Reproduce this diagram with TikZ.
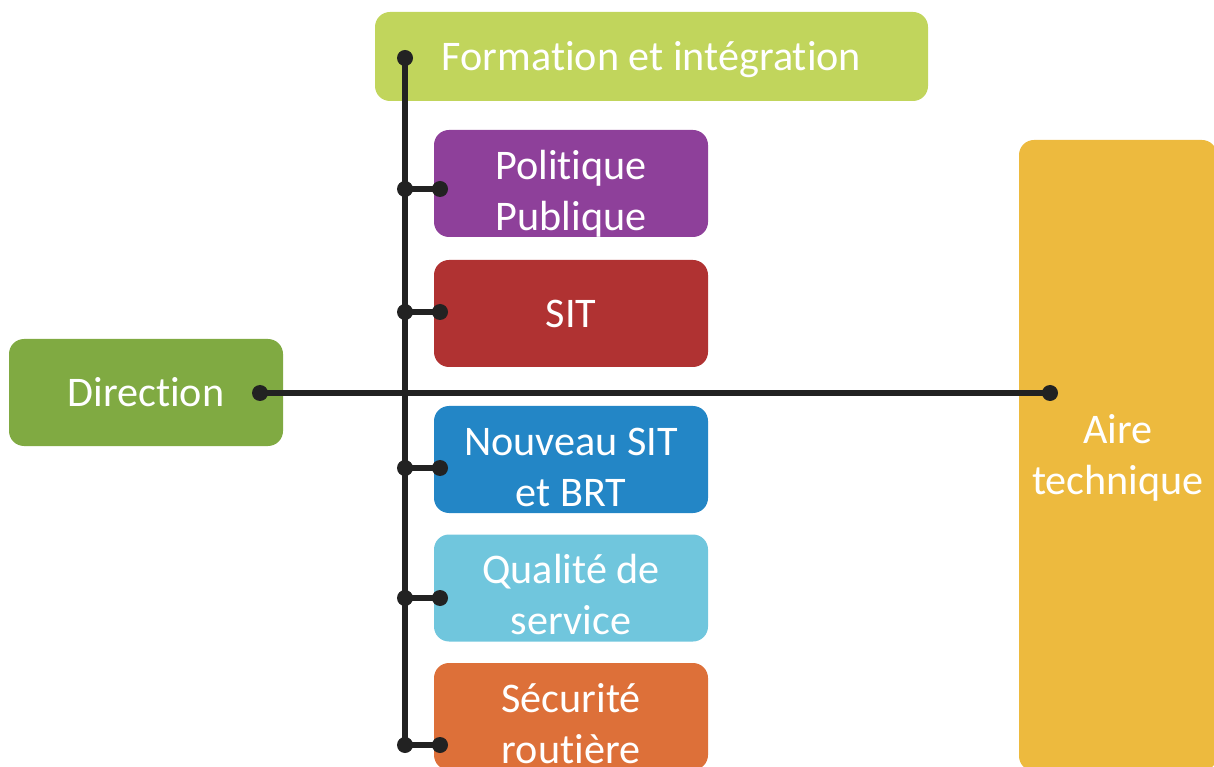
\documentclass[tikz,border=0pt]{standalone}
\usepackage{fontspec}
\setmainfont[Ligatures=NoCommon]{Carlito}

\definecolor{formcol}{RGB}{193,213,92}
\definecolor{polcol}{RGB}{142,64,154}
\definecolor{sitcol}{RGB}{176,50,50}
\definecolor{nouvcol}{RGB}{35,134,198}
\definecolor{qualcol}{RGB}{112,198,221}
\definecolor{secucol}{RGB}{221,112,57}
\definecolor{dircol}{RGB}{128,170,66}
\definecolor{airecol}{RGB}{237,186,62}
\definecolor{wirecol}{RGB}{34,34,34}

\tikzset{
  unit/.style={rounded corners=0.3cm, minimum width=5.48cm, minimum height=2.14cm, inner sep=0pt},
  lbl/.style={text=white, align=center, font=\fontsize{24}{29}\selectfont},
  tag/.style 2 args={path picture={\node[lbl] at ([yshift=#2]path picture bounding box.center) {\strut #1\strut};}},
  wire/.style={draw=wirecol, line width=0.115cm},
  dot/.style={fill=wirecol}
}

\begin{document}
\begin{tikzpicture}
            \path[use as bounding box, clip] (0,0) rectangle (24.280000,-15.340000);

            % Drawing box Formation et integration
            \node[unit, fill=formcol, minimum width=11.06cm, minimum height=1.78cm, tag={Formation et intégration}{-0.08cm}] (form) at (13.030000,-1.130000) {};

            % Drawing box Politique Publique
            \node[unit, fill=polcol, tag={Politique\\Publique}{-0.22cm}] (pol) at (11.420000,-3.670000) {};

            % Drawing box SIT
            \node[unit, fill=sitcol, tag={SIT}{-0.08cm}] (sit) at (11.420000,-6.270000) {};

            % Drawing box Nouveau SIT et BRT
            \node[unit, fill=nouvcol, tag={Nouveau SIT\\et BRT}{-0.22cm}] (nouv) at (11.420000,-9.190000) {};

            % Drawing box Qualite de service
            \node[unit, fill=qualcol, tag={Qualité de\\service}{-0.22cm}] (qual) at (11.420000,-11.760000) {};

            % Drawing box Securite routiere
            \node[unit, fill=secucol, tag={Sécurité\\routière}{-0.22cm}] (secu) at (11.420000,-14.330000) {};

            % Drawing box Direction
            \node[unit, fill=dircol, tag={Direction}{-0.08cm}] (dir) at (2.920000,-7.850000) {};

            % Drawing box Aire technique
            \node[unit, fill=airecol, minimum width=3.96cm, minimum height=12.62cm, tag={Aire\\technique}{-0.06cm}] (aire) at (22.360000,-9.110000) {};

            % Marking spine and branch points
            \coordinate (spinetop) at (8.100000,-1.160000);
            \coordinate (spinebot) at (8.100000,-14.900000);
            \coordinate (polj) at (8.100000,-3.780000);
            \coordinate (polend) at (8.800000,-3.780000);
            \coordinate (sitj) at (8.100000,-6.240000);
            \coordinate (sitend) at (8.800000,-6.240000);
            \coordinate (nouvj) at (8.100000,-9.360000);
            \coordinate (nouvend) at (8.800000,-9.360000);
            \coordinate (qualj) at (8.100000,-11.960000);
            \coordinate (qualend) at (8.800000,-11.960000);
            \coordinate (secuend) at (8.800000,-14.900000);
            \coordinate (dirend) at (5.200000,-7.860000);
            \coordinate (aireend) at (21.000000,-7.860000);

            % Drawing spine
            \draw[wire] (spinetop) -- (spinebot);%

            % Drawing branches
            \draw[wire] (polj) -- (polend);%
            \draw[wire] (sitj) -- (sitend);%
            \draw[wire] (nouvj) -- (nouvend);%
            \draw[wire] (qualj) -- (qualend);%
            \draw[wire] (spinebot) -- (secuend);%

            % Drawing line Direction - Aire technique
            \draw[wire] (dirend) -- (aireend);%

            % Drawing dots
            \fill[dot] (spinetop) circle (0.16cm);
            \fill[dot] (polj) circle (0.16cm);
            \fill[dot] (polend) circle (0.16cm);
            \fill[dot] (sitj) circle (0.16cm);
            \fill[dot] (sitend) circle (0.16cm);
            \fill[dot] (nouvj) circle (0.16cm);
            \fill[dot] (nouvend) circle (0.16cm);
            \fill[dot] (qualj) circle (0.16cm);
            \fill[dot] (qualend) circle (0.16cm);
            \fill[dot] (spinebot) circle (0.16cm);
            \fill[dot] (secuend) circle (0.16cm);
            \fill[dot] (dirend) circle (0.16cm);
            \fill[dot] (aireend) circle (0.16cm);
\end{tikzpicture}
\end{document}
